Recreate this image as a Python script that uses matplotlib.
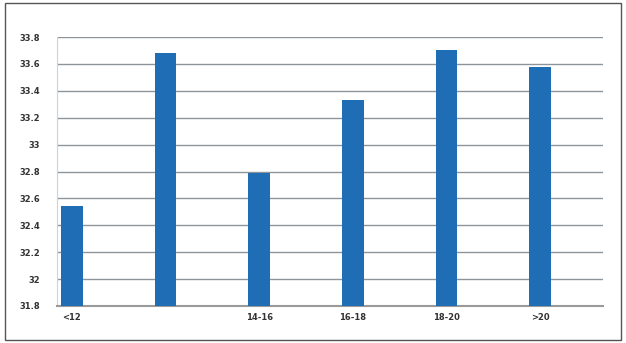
import matplotlib.pyplot as plt
import numpy as np
from matplotlib.patches import Rectangle

# age groups and mean values
groups = ['<12', '', '14-16', '16-18', '18-20', '>20']
values = [32.54, 33.68, 32.79, 33.33, 33.70, 33.58]
yticks = [31.8, 32, 32.2, 32.4, 32.6, 32.8, 33, 33.2, 33.4, 33.6, 33.8]
ytick_labels = ['31.8', '32', '32.2', '32.4', '32.6', '32.8', '33', '33.2', '33.4', '33.6', '33.8']

fig = plt.figure(figsize=(6.26, 3.43), dpi=100)
ax = fig.add_axes([0.091, 0.108, 0.872, 0.784])

x = np.arange(len(groups))
ax.bar(x, values, width=0.23, color='#1f6db4', zorder=3)

ax.set_ylim(31.8, 33.8)
ax.set_xlim(-0.16, 5.67)
ax.set_yticks(yticks)
ax.set_yticklabels(ytick_labels, fontsize=6, fontweight='bold', color='#333333')
ax.set_xticks(x)
ax.set_xticklabels(groups, fontsize=6, fontweight='bold', color='#333333')
ax.tick_params(axis='y', length=0, pad=12)
ax.tick_params(axis='x', length=0, pad=5)

ax.grid(axis='y', color='#8c949c', linewidth=1.0, zorder=0)
for s in ['top', 'right']:
    ax.spines[s].set_visible(False)
ax.spines['left'].set_color('#c8d4e0')
ax.spines['bottom'].set_color('#9a9a9a')
ax.spines['bottom'].set_linewidth(1.5)

# outer frame
fig.patches.append(Rectangle((0.008, 0.008), 0.984, 0.984, transform=fig.transFigure,
                             fill=False, edgecolor='#555555', linewidth=1.0))

fig.savefig('out.png', dpi=100)
